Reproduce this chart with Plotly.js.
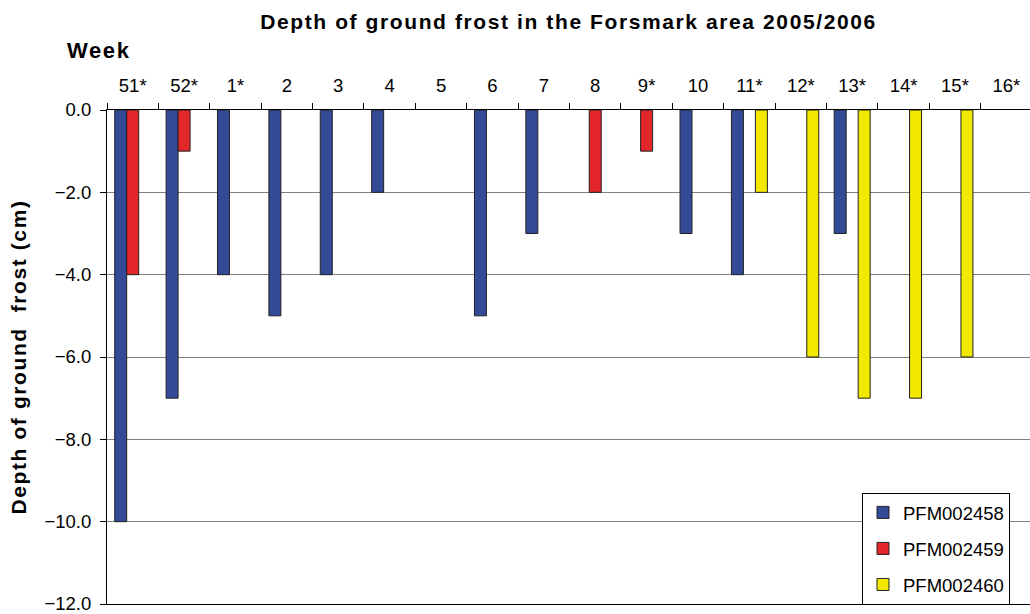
<!DOCTYPE html>
<html>
<head>
<meta charset="utf-8">
<script src="https://cdn.plot.ly/plotly-3.0.1.min.js"></script>
<style>
html,body{margin:0;padding:0;background:#fff;overflow:hidden}
.gtitle, .ytitle, .annotation-text { letter-spacing: 1.6px; }
</style>
</head>
<body>
<div id="chart" style="width:1030px;height:614px"></div>
<script>
const weeks = ["51*","52*","1*","2","3","4","5","6","7","8","9*","10","11*","12*","13*","14*","15*","16*"];
const pfm002458 = [-10,-7,-4,-5,-4,-2,null,-5,-3,null,null,-3,-4,null,-3,null,null,null];
const pfm002459 = [-4,-1,null,null,null,null,null,null,null,-2,-1,null,null,null,null,null,null,null];
const pfm002460 = [null,null,null,null,null,null,null,null,null,null,null,null,-2,-6,-7,-7,-6,null];
const seriesNames = ["PFM002458","PFM002459","PFM002460"];
const yTicks = [0,-2,-4,-6,-8,-10,-12];

const colors = ["#334A96","#E3262A","#F2E800"];
const FONT = "Arial, 'Liberation Sans', sans-serif";
const TXT = 18.5;

const data = [pfm002458, pfm002459, pfm002460].map((vals, i) => ({
  type: "bar",
  x: weeks,
  y: vals,
  name: seriesNames[i],
  legendgroup: "g" + i,
  marker: {color: colors[i], line: {color: "#222", width: 1}},
  hoverinfo: "x+y+name"
}));

const layout = {
  width: 1030, height: 614,
  margin: {l: 107, r: 0, t: 110, b: 10},
  paper_bgcolor: "#fff", plot_bgcolor: "#fff",
  font: {family: FONT, color: "#000", size: TXT},
  title: {text: "<b>Depth of ground frost in the Forsmark area 2005/2006</b>",
          font: {family: FONT, size: 21, color: "#000"},
          x: 0.5, xref: "paper", xanchor: "center", y: 0.964, yref: "container", yanchor: "middle"},
  barmode: "group", bargap: 0.3, bargroupgap: 0,
  xaxis: {
    type: "category", side: "top", range: [-0.5, 17.46],
    showline: true, linecolor: "#000", linewidth: 1, mirror: true,
    ticks: "outside", tickson: "boundaries", ticklen: 6, tickcolor: "#000",
    ticklabelstandoff: 10,
    showgrid: false, zeroline: false,
    tickfont: {family: FONT, size: TXT, color: "#000"}
  },
  yaxis: {
    range: [-12, 0], tickvals: yTicks, tickformat: ".1f",
    showline: true, linecolor: "#000", linewidth: 1,
    ticks: "outside", ticklen: 6, tickcolor: "#000",
    ticklabelstandoff: 5, ticklabeloverflow: "allow",
    showgrid: true, gridcolor: "#808080", gridwidth: 1, zeroline: false,
    tickfont: {family: FONT, size: TXT, color: "#000"},
    title: {text: "<b>Depth of ground  frost (cm)</b>", font: {family: FONT, size: 21, color: "#000"}, standoff: 12}
  },
  legend: {
    x: 0.818, y: 0.225, xanchor: "left", yanchor: "top",
    bgcolor: "#fff", bordercolor: "#000", borderwidth: 1,
    font: {family: FONT, size: TXT, color: "#000"},
    traceorder: "grouped", tracegroupgap: 9
  },
  annotations: [{
    text: "<b>Week</b>", xref: "paper", yref: "paper", x: -0.045, y: 1.12,
    xanchor: "left", yanchor: "middle", showarrow: false,
    font: {family: FONT, size: 22, color: "#000"}
  }],
  showlegend: true
};

Plotly.newPlot("chart", data, layout, {displayModeBar: false, staticPlot: true});
</script>
</body>
</html>
